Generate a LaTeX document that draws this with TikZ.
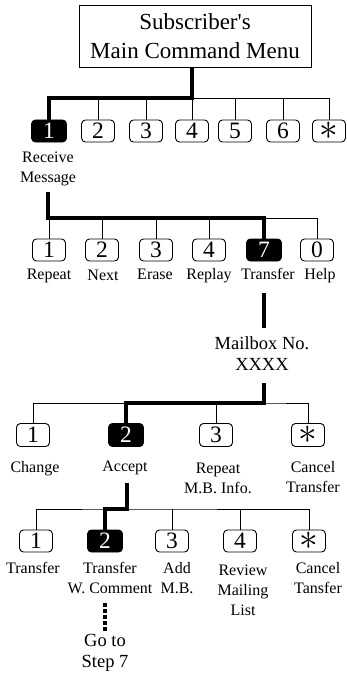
\documentclass[tikz,border=0pt]{standalone}
\usepackage{fontspec}
\setmainfont[Ligatures=TeXOff]{Liberation Serif}
\begin{document}
\begin{tikzpicture}[x=1pt,y=-1pt,
  key/.style={draw, line width=0.9pt, rounded corners=4pt, minimum width=33pt,
    minimum height=22pt, inner sep=0pt, font=\fontsize{23.5}{23.5}\selectfont},
  keyon/.style={key, fill=black, text=white, minimum width=35pt},
  lbl/.style={font=\fontsize{16}{20}\selectfont, align=center, anchor=base, inner sep=0pt},
  biglbl/.style={font=\fontsize{18.5}{20.5}\selectfont, align=center, anchor=base, inner sep=0pt},
  titlebox/.style={draw, line width=0.9pt, minimum width=232pt, minimum height=62pt,
    align=center, inner sep=0pt, font=\fontsize{23}{29}\selectfont},
  thinline/.style={line width=0.9pt},
  thickline/.style={line width=4pt},
  dotline/.style={line width=4pt, dash pattern=on 3.5pt off 2.5pt}]
\useasboundingbox (0,0) rectangle (347,674);
\newcommand{\astk}{\scalebox{1.5}{$\ast$}}

% title
\node[titlebox] (title) at (195,36) {Subscriber's\\Main Command Menu};

% row 1
\node[keyon] (a1) at (49,131) {1};
\node[key] (a2) at (98,131) {2};
\node[key] (a3) at (146,131) {3};
\node[key] (a4) at (192,131) {4};
\node[key] (a5) at (235,131) {5};
\node[key] (a6) at (283,131) {6};
\node[key] (a7) at (329,131) {\astk};
\node[lbl] (rm) at (48,182) {Receive\\Message};

\coordinate (j1) at (192,98);
\coordinate (t1) at (title.south -| j1);
\draw[thinline] (j1) -| (a7.north);
\foreach \n in {2,...,6} \draw[thinline] (a\n.north) -- (a\n.north |- j1);
\draw[thickline] (t1) -- (j1) -| (a1.north);

% row 2
\node[key] (b1) at (49,250) {1};
\node[key] (b2) at (102,250) {2};
\node[key] (b3) at (156,250) {3};
\node[key] (b4) at (209,250) {4};
\node[keyon] (b7) at (264,250) {7};
\node[key] (b0) at (317,250) {0};
\node[lbl] (l21) at (49,279) {Repeat};
\node[lbl] (l22) at (103,280) {Next};
\node[lbl] (l23) at (155,279) {Erase};
\node[lbl] (l24) at (209,279) {Replay};
\node[lbl] (l27) at (268,279) {Transfer};
\node[lbl] (l20) at (320,279) {Help};

\coordinate (r1) at (48,192);
\coordinate (j2) at (48,218);
\draw[thinline] (j2) -| (b0.north);
\foreach \n in {1,...,4} \draw[thinline] (b\n.north) -- (b\n.north |- j2);
\draw[thickline] (r1) -- (j2) -| (b7.north);

% mailbox
\node[biglbl] (mb) at (262,370) {Mailbox No.\\XXXX};
\coordinate (tr1) at (264,293);
\coordinate (tr2) at (264,328);
\draw[thickline] (tr1) -- (tr2);

% row 3
\node[key, minimum height=23pt] (c1) at (33,435) {1};
\node[keyon, minimum height=23pt] (c2) at (126,435) {2};
\node[key, minimum height=23pt] (c3) at (216,435) {3};
\node[key, minimum height=23pt] (cs) at (308,435) {\astk};
\node[lbl] (l31) at (35,472) {Change};
\node[lbl] (l32) at (125,471) {Accept};
\node[lbl] (l33) at (218,493) {Repeat\\M.B. Info.};
\node[lbl] (l3s) at (313,492) {Cancel\\Transfer};

\coordinate (m1) at (264,383);
\coordinate (j3) at (264,403);
\draw[thinline] (c1.north) |- (j3) -| (cs.north);
\draw[thinline] (c3.north) -- (c3.north |- j3);
\draw[thickline] (m1) -- (j3) -| (c2.north);

% row 4
\node[key] (d1) at (36,541) {1};
\node[keyon] (d2) at (105,541) {2};
\node[key] (d3) at (172,541) {3};
\node[key] (d4) at (240,541) {4};
\node[key] (ds) at (309,541) {\astk};
\node[lbl] (l41) at (33,573) {Transfer};
\node[lbl] (l42) at (110,593) {Transfer\\W. Comment};
\node[lbl] (l43) at (177,593) {Add\\M.B.};
\node[lbl] (l44) at (243,615) {Review\\Mailing\\List};
\node[lbl] (l4s) at (318,593) {Cancel\\Tansfer};

\coordinate (ac) at (127,483);
\coordinate (j4) at (127,509);
\draw[thinline] (d1.north) |- (j4) -| (ds.north);
\draw[thinline] (d3.north) -- (d3.north |- j4);
\draw[thinline] (d4.north) -- (d4.north |- j4);
\draw[thickline] (ac) -- (j4) -| (d2.north);

% go to step 7
\coordinate (g1) at (105,603);
\coordinate (g2) at (105,632);
\draw[dotline] (g1) -- (g2);
\node[biglbl] (go) at (105,667) {Go to\\Step 7};
\end{tikzpicture}
\end{document}
